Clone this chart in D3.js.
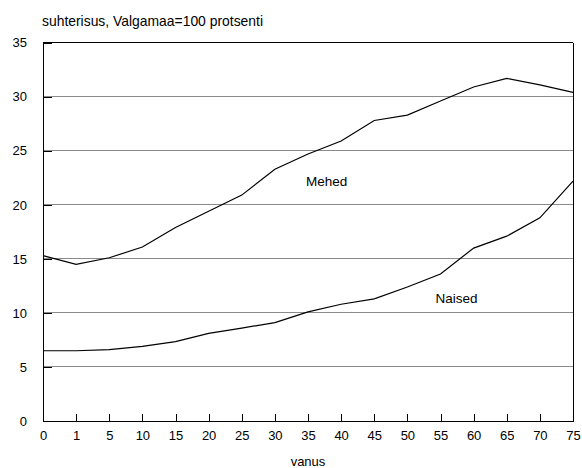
<!DOCTYPE html>
<html>
<head>
<meta charset="utf-8">
<script src="https://cdn.jsdelivr.net/npm/d3@7"></script>
<style>
  html, body { margin: 0; padding: 0; background: #fff; }
  svg { display: block; }
  text { font-family: "Liberation Sans", Arial, sans-serif; fill: #000; }
</style>
</head>
<body>
<svg id="chart" width="582" height="468"></svg>
<script>
const categories = ["0","1","5","10","15","20","25","30","35","40","45","50","55","60","65","70","75"];
const mehed  = [15.3, 14.5, 15.1, 16.1, 17.9, 19.4, 20.9, 23.3, 24.7, 25.9, 27.8, 28.3, 29.6, 30.9, 31.7, 31.1, 30.4];
const naised = [6.5, 6.5, 6.6, 6.9, 7.35, 8.1, 8.6, 9.1, 10.1, 10.8, 11.3, 12.4, 13.6, 16.0, 17.1, 18.8, 22.2];
const yTicks = [0, 5, 10, 15, 20, 25, 30, 35];
const seriesLabels = [
  {name: "Mehed", cat: "35", value: 21.7, dx: -2},
  {name: "Naised", cat: "55", value: 10.9, dx: -5}
];
const titleText = "suhterisus, Valgamaa=100 protsenti";
const xTitle = "vanus";

const svg = d3.select("#chart");
const pLeft = 43, pRight = 573, pTop = 42.7, pBottom = 421;

const x = d3.scalePoint().domain(categories).range([pLeft, pRight]);
const y = d3.scaleLinear().domain([0, 35]).range([pBottom, pTop]);

// gridlines
svg.append("g").selectAll("line")
  .data(yTicks.filter(v => v > 0 && v < 35))
  .join("line")
  .attr("x1", pLeft).attr("x2", pRight)
  .attr("y1", d => y(d)).attr("y2", d => y(d))
  .attr("stroke", "#8a8a8a").attr("stroke-width", 1)
  .attr("shape-rendering", "crispEdges");

// frame top & right
svg.append("line").attr("x1", pLeft).attr("x2", pRight).attr("y1", y(35)).attr("y2", y(35))
  .attr("stroke", "#000").attr("shape-rendering", "crispEdges");
svg.append("line").attr("x1", pRight).attr("x2", pRight).attr("y1", y(35)).attr("y2", y(0))
  .attr("stroke", "#000").attr("shape-rendering", "crispEdges");

// y axis
const yAxis = d3.axisLeft(y).tickValues(yTicks).tickSizeInner(-9).tickSizeOuter(0).tickPadding(16);
const gy = svg.append("g").attr("transform", `translate(${pLeft},0)`).call(yAxis);
gy.select(".domain").attr("stroke", "#000").attr("shape-rendering", "crispEdges");
gy.selectAll(".tick line").attr("stroke", "#000").attr("shape-rendering", "crispEdges");
gy.selectAll(".tick text").attr("font-size", 13).attr("font-family", "Liberation Sans, Arial, sans-serif").attr("fill", "#000");

// x axis
const xAxis = d3.axisBottom(x).tickSizeInner(-7).tickSizeOuter(0).tickPadding(10);
const gx = svg.append("g").attr("transform", `translate(0,${pBottom})`).call(xAxis);
gx.select(".domain").attr("stroke", "#000").attr("shape-rendering", "crispEdges");
gx.selectAll(".tick line").attr("stroke", "#000").attr("shape-rendering", "crispEdges");
gx.selectAll(".tick text").attr("font-size", 13).attr("font-family", "Liberation Sans, Arial, sans-serif").attr("fill", "#000");

// lines
const line = d3.line().x((d, i) => x(categories[i])).y(d => y(d));
[mehed, naised].forEach(s => {
  svg.append("path").datum(s).attr("d", line)
    .attr("fill", "none").attr("stroke", "#000").attr("stroke-width", 1.2);
});

// series labels
svg.append("g").selectAll("text").data(seriesLabels).join("text")
  .attr("x", d => x(d.cat) + d.dx).attr("y", d => y(d.value))
  .attr("font-size", 13.5).text(d => d.name);

// title
svg.append("text").attr("x", 42).attr("y", 26).attr("font-size", 13.9).text(titleText);
svg.append("text").attr("x", (pLeft + pRight) / 2).attr("y", 466).attr("text-anchor", "middle")
  .attr("font-size", 13).text(xTitle);
</script>
</body>
</html>
